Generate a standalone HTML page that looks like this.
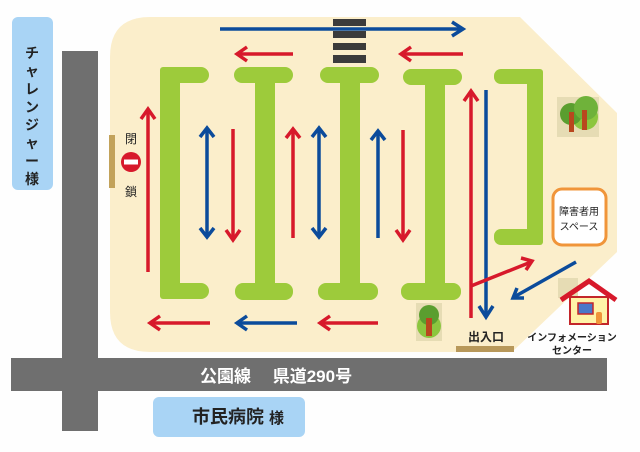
<!DOCTYPE html>
<html><head><meta charset="utf-8"><style>
html,body{margin:0;padding:0;background:#fff;}
svg{display:block}
text{font-family:"Liberation Sans","Noto Sans CJK JP",sans-serif;}
</style></head><body>
<svg width="640" height="452" viewBox="0 0 640 452" xmlns="http://www.w3.org/2000/svg">
<rect width="640" height="452" fill="#fefefe"/>
<rect x="62" y="51" width="36" height="380" fill="#6f6f6f"/>
<rect x="11" y="358" width="596" height="33" fill="#6f6f6f"/>
<rect x="12" y="17" width="41" height="173" rx="6" fill="#a9d4f5"/>
<text font-size="14" font-weight="bold" fill="#222" text-anchor="middle">
<tspan x="32" y="58">チ</tspan><tspan x="32" y="76">ャ</tspan><tspan x="32" y="94">レ</tspan><tspan x="32" y="112">ン</tspan><tspan x="32" y="130">ジ</tspan><tspan x="32" y="148">ャ</tspan><tspan x="32" y="166">ー</tspan><tspan x="32" y="184">様</tspan></text>
<rect x="153" y="397" width="152" height="40" rx="6" fill="#a9d4f5"/>
<text x="192" y="423" font-size="18" font-weight="bold" fill="#222">市民病院 <tspan font-size="15">様</tspan></text>
<text x="200" y="382" font-size="17" font-weight="bold" fill="#fff">公園線　 県道290号</text>
<path d="M150 17 L520 17 L617 113 L617 252 L512 352 L150 352 Q110 352 110 312 L110 57 Q110 17 150 17 Z" fill="#fbeecb"/>
<rect x="109" y="135" width="6" height="53" fill="#c2a25a"/>
<text x="131" y="143" font-size="12" text-anchor="middle" fill="#222">閉</text>
<circle cx="131" cy="162" r="10" fill="#d7192b"/>
<rect x="124" y="159.5" width="14" height="5" fill="#fff"/>
<text x="131" y="196" font-size="12" text-anchor="middle" fill="#222">鎖</text>
<g fill="#3b3b3b"><rect x="333" y="19" width="33" height="7"/><rect x="333" y="31" width="33" height="7"/><rect x="333" y="43" width="33" height="7"/><rect x="333" y="55" width="33" height="8"/></g>
<g fill="#9dcb3b">
<rect x="160" y="67" width="20" height="232" rx="3"/>
<rect x="160" y="67" width="49" height="16" rx="8"/>
<rect x="160" y="283" width="49" height="16" rx="8"/>
<rect x="255" y="70" width="20" height="220"/>
<rect x="234" y="67" width="59" height="16" rx="8"/><rect x="235" y="283" width="58" height="17" rx="8"/>
<rect x="340" y="70" width="20" height="220"/>
<rect x="320" y="67" width="59" height="16" rx="8"/><rect x="318" y="283" width="60" height="17" rx="8"/>
<rect x="425" y="70" width="20" height="220"/>
<rect x="403" y="69" width="59" height="16" rx="8"/><rect x="401" y="283" width="60" height="17" rx="8"/>
<rect x="527" y="69" width="16" height="176" rx="3"/>
<rect x="494" y="69" width="49" height="15" rx="7"/>
<rect x="494" y="229" width="49" height="16" rx="7"/>
</g>
<g fill="none" stroke-width="3.5" stroke-linecap="butt" stroke-linejoin="miter">
<g stroke="#0b4b9b">
<line x1="220" y1="29" x2="462" y2="29"/><polyline points="452,22 463,29 452,36"/>
<line x1="207" y1="129" x2="207" y2="236"/><polyline points="200,137 207,128 214,137"/><polyline points="200,228 207,237 214,228"/>
<line x1="319" y1="129" x2="319" y2="236"/><polyline points="312,137 319,128 326,137"/><polyline points="312,228 319,237 326,228"/>
<line x1="378" y1="132" x2="378" y2="238"/><polyline points="371,140 378,131 385,140"/>
<line x1="486" y1="90" x2="486" y2="316"/><polyline points="479,306 486,317 493,306"/>
<line x1="297" y1="323" x2="238" y2="323"/><polyline points="247,316 237,323 247,330"/>
<line x1="576" y1="262" x2="514" y2="297"/><polyline points="517,288 513,298 524,298"/>
</g>
<g stroke="#d7192b">
<line x1="293" y1="54" x2="238" y2="54"/><polyline points="247,47 237,54 247,61"/>
<line x1="463" y1="54" x2="402" y2="54"/><polyline points="411,47 401,54 411,61"/>
<line x1="148" y1="272" x2="148" y2="110"/><polyline points="141,119 148,109 155,119"/>
<line x1="233" y1="129" x2="233" y2="238"/><polyline points="226,230 233,240 240,230"/>
<line x1="293" y1="238" x2="293" y2="130"/><polyline points="286,138 293,129 300,138"/>
<line x1="403" y1="130" x2="403" y2="238"/><polyline points="396,230 403,240 410,230"/>
<line x1="471" y1="318" x2="471" y2="92"/><polyline points="464,101 471,91 478,101"/>
<line x1="471" y1="286" x2="531" y2="262"/><polyline points="521,258 532,261 526,270"/>
<line x1="210" y1="323" x2="151" y2="323"/><polyline points="160,316 150,323 160,330"/>
<line x1="378" y1="323" x2="321" y2="323"/><polyline points="330,316 320,323 330,330"/>
</g>
</g>
<rect x="557" y="97" width="42" height="40" fill="#e6dcb4"/>
<circle cx="585" cy="117" r="13" fill="#8cc63f"/>
<circle cx="571" cy="114" r="11" fill="#5a9e2f"/>
<circle cx="586" cy="108" r="12" fill="#6fb23a"/>
<rect x="569" y="112" width="5" height="20" fill="#b9471e"/><rect x="582" y="110" width="5" height="20" fill="#b9471e"/>
<rect x="416" y="303" width="26" height="38" fill="#e6dcb4"/>
<circle cx="429" cy="326" r="12" fill="#8cc63f"/>
<circle cx="429" cy="315" r="10" fill="#5a9e2f"/>
<rect x="426" y="318" width="6" height="18" fill="#b9471e"/>
<rect x="553" y="189" width="53" height="56" rx="9" fill="#fff" stroke="#f0953a" stroke-width="3"/>
<text x="579" y="215" font-size="10" text-anchor="middle" fill="#222">障害者用</text>
<text x="579" y="230" font-size="10" text-anchor="middle" fill="#222">スペース</text>
<rect x="558" y="278" width="20" height="20" fill="#e6dcb4"/>
<rect x="570" y="297" width="38" height="27" fill="#fff3a8" stroke="#c3262a" stroke-width="2"/>
<polyline points="561,300 589,281 616,300" fill="none" stroke="#d7192b" stroke-width="5"/>
<rect x="578" y="303" width="15" height="11" fill="#4a78c8" stroke="#c3262a" stroke-width="1.5"/>
<rect x="596" y="312" width="6" height="12" rx="2" fill="#f0953a"/>
<text x="572" y="341" font-size="10" font-weight="bold" text-anchor="middle" fill="#222">インフォメーション</text>
<text x="572" y="354" font-size="10" font-weight="bold" text-anchor="middle" fill="#222">センター</text>
<text x="486" y="341" font-size="12" font-weight="bold" text-anchor="middle" fill="#222">出入口</text>
<rect x="456" y="346" width="58" height="6" fill="#b8985a"/>
</svg>
</body></html>
